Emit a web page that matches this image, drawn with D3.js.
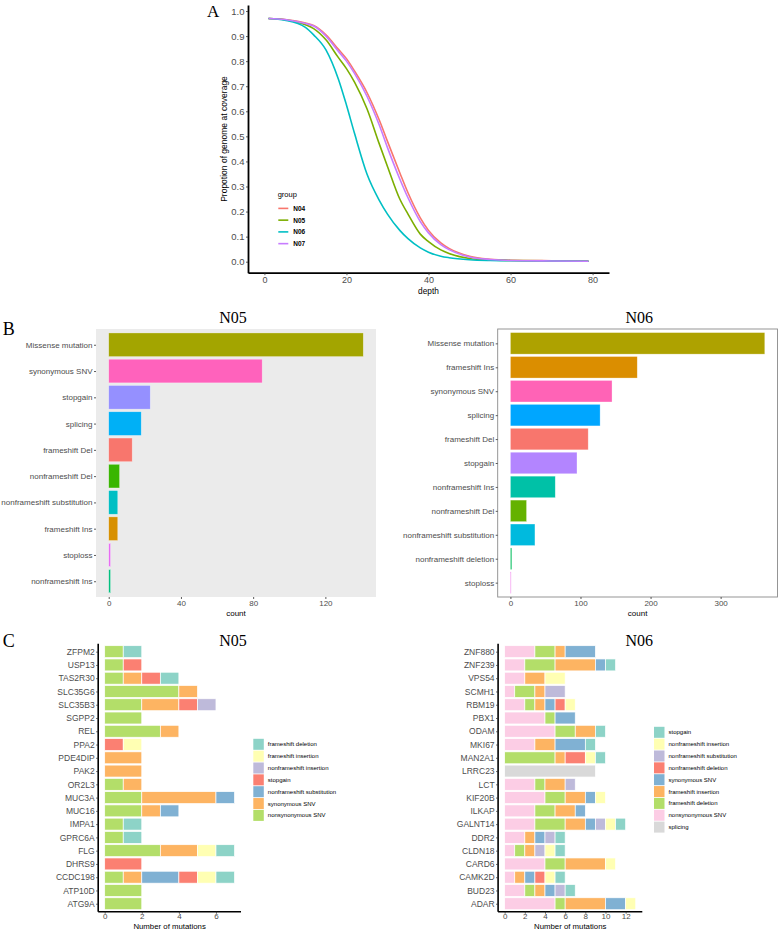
<!DOCTYPE html>
<html>
<head>
<meta charset="utf-8">
<title>Coverage and mutation summary</title>
<script src="https://cdn.jsdelivr.net/npm/d3@7/dist/d3.min.js"></script>
<style>
  body { margin: 0; background: #fff; }
  svg { display: block; font-family: "Liberation Sans", Arial, sans-serif; }
</style>
</head>
<body>
<div id="chart"></div>
<script>
// ---------- panel A : coverage curves ----------
var depthPoints = [1, 5, 10, 12, 15, 18, 20, 22, 25, 28, 30, 33, 35, 38, 40, 43, 45, 50, 55, 60, 70, 79];
var covN04 = [0.970, 0.966, 0.952, 0.942, 0.905, 0.848, 0.810, 0.760, 0.675, 0.565, 0.480, 0.355, 0.275, 0.175, 0.125, 0.075, 0.053, 0.022, 0.010, 0.006, 0.004, 0.003];
var covN05 = [0.970, 0.965, 0.945, 0.930, 0.885, 0.815, 0.770, 0.715, 0.610, 0.470, 0.380, 0.250, 0.190, 0.110, 0.080, 0.047, 0.033, 0.013, 0.007, 0.005, 0.003, 0.002];
var covN06 = [0.970, 0.963, 0.935, 0.905, 0.845, 0.730, 0.625, 0.510, 0.350, 0.245, 0.190, 0.125, 0.092, 0.055, 0.038, 0.022, 0.016, 0.008, 0.005, 0.004, 0.003, 0.002];
var covN07 = [0.970, 0.966, 0.950, 0.940, 0.900, 0.840, 0.800, 0.750, 0.660, 0.545, 0.455, 0.330, 0.255, 0.160, 0.115, 0.068, 0.048, 0.019, 0.009, 0.005, 0.003, 0.002];
var groupNames = ["N04", "N05", "N06", "N07"];
var groupColors = ["#F8766D", "#7CAE00", "#00BFC4", "#C77CFF"];

// ---------- panel B : mutation type counts ----------
var n05Types = ["Missense mutation", "synonymous SNV", "stopgain", "splicing", "frameshift Del",
  "nonframeshift Del", "nonframeshift substitution", "frameshift Ins", "stoploss", "nonframeshift Ins"];
var n05Counts = [141, 85, 23, 18, 13, 6, 5, 5, 1, 1];
var n05TypeColors = ["#A3A500", "#FF62BC", "#9590FF", "#00B0F6", "#F8766D", "#39B600", "#00BFC4", "#D89000", "#E76BF3", "#00BF7D"];

var n06Types = ["Missense mutation", "frameshift Ins", "synonymous SNV", "splicing", "frameshift Del", "stopgain",
  "nonframeshift Ins", "nonframeshift Del", "nonframeshift substitution", "nonframeshift deletion", "stoploss"];
var n06Counts = [363, 181, 145, 128, 111, 95, 64, 23, 35, 2, 1];
var n06TypeColors = ["#AEA200", "#DB8E00", "#FF63B6", "#00A6FF", "#F8766D", "#B385FF", "#00C1A7", "#64B200", "#00BADE", "#00BD5C", "#EF67EB"];

// ---------- panel C : mutations per gene ----------
var n05Genes = ["ZFPM2", "USP13", "TAS2R30", "SLC35G6", "SLC35B3", "SGPP2", "REL", "PPA2", "PDE4DIP", "PAK2",
  "OR2L3", "MUC3A", "MUC16", "IMPA1", "GPRC6A", "FLG", "DHRS9", "CCDC198", "ATP10D", "ATG9A"];
var n05Nonsyn   = [1, 1, 1, 4, 2, 2, 3, 0, 0, 0, 1, 2, 2, 1, 1, 3, 0, 1, 2, 2];
var n05Syn      = [0, 0, 1, 1, 2, 0, 1, 0, 2, 2, 1, 4, 1, 0, 0, 2, 0, 1, 0, 0];
var n05NfsSub   = [0, 0, 0, 0, 0, 0, 0, 0, 0, 0, 0, 1, 1, 0, 0, 0, 0, 2, 0, 0];
var n05Stopgain = [0, 1, 1, 0, 1, 0, 0, 1, 0, 0, 0, 0, 0, 0, 0, 0, 2, 1, 0, 0];
var n05NfsIns   = [0, 0, 0, 0, 1, 0, 0, 0, 0, 0, 0, 0, 0, 0, 0, 0, 0, 0, 0, 0];
var n05FsIns    = [0, 0, 0, 0, 0, 0, 0, 1, 0, 0, 0, 0, 0, 0, 0, 1, 0, 1, 0, 0];
var n05FsDel    = [1, 0, 1, 0, 0, 0, 0, 0, 0, 0, 0, 0, 0, 1, 1, 1, 0, 1, 0, 0];

var n06Genes = ["ZNF880", "ZNF239", "VPS54", "SCMH1", "RBM19", "PBX1", "ODAM", "MKI67", "MAN2A1", "LRRC23",
  "LCT", "KIF20B", "ILKAP", "GALNT14", "DDR2", "CLDN18", "CARD6", "CAMK2D", "BUD23", "ADAR"];
var n06Splicing = [0, 0, 0, 0, 0, 0, 0, 0, 0, 9, 0, 0, 0, 0, 0, 0, 0, 0, 0, 0];
var n06Nonsyn   = [3, 2, 2, 1, 2, 4, 5, 3, 0, 0, 3, 4, 3, 3, 2, 1, 4, 1, 2, 5];
var n06FsDel    = [2, 3, 0, 2, 1, 1, 2, 0, 5, 0, 1, 2, 2, 3, 0, 1, 2, 0, 1, 1];
var n06FsIns    = [1, 4, 2, 1, 1, 0, 2, 2, 1, 0, 2, 2, 2, 2, 1, 1, 4, 1, 1, 4];
var n06Syn      = [3, 1, 0, 0, 1, 2, 0, 3, 0, 0, 0, 1, 1, 1, 1, 0, 0, 1, 1, 2];
var n06NfsDel   = [0, 0, 0, 0, 1, 0, 0, 0, 2, 0, 0, 0, 0, 0, 0, 0, 0, 1, 0, 0];
var n06NfsSub   = [0, 0, 0, 2, 0, 0, 0, 0, 0, 0, 1, 0, 0, 1, 1, 1, 0, 0, 1, 0];
var n06NfsIns   = [0, 0, 2, 0, 1, 0, 0, 0, 1, 0, 0, 1, 0, 1, 0, 1, 1, 1, 0, 1];
var n06Stopgain = [0, 1, 0, 0, 0, 0, 1, 1, 1, 0, 0, 0, 0, 1, 1, 1, 0, 1, 1, 0];

var sans = '"Liberation Sans", Arial, sans-serif';
var serif = '"Liberation Serif", "Times New Roman", serif';
var tickGrey = "#4d4d4d";

var svg = d3.select("#chart").append("svg").attr("width", 778).attr("height", 930);

function addText(txt, x, y, size, opts) {
  opts = opts || {};
  return svg.append("text").attr("x", x).attr("y", y)
    .attr("font-family", opts.family || sans)
    .attr("font-size", size)
    .attr("font-weight", opts.weight || "normal")
    .attr("fill", opts.fill || "#000")
    .attr("text-anchor", opts.anchor || "start")
    .attr("dominant-baseline", opts.baseline || "auto")
    .text(txt);
}

function styleAxis(g, size, lineW, showDomain) {
  g.selectAll("text").attr("font-family", sans).attr("font-size", size).attr("fill", tickGrey);
  g.selectAll(".tick line").attr("stroke", "#333").attr("stroke-width", 0.8);
  if (showDomain) g.select(".domain").attr("stroke", "#000").attr("stroke-width", lineW);
  else g.select(".domain").remove();
}

// ================= Panel A =================
var xA = d3.scaleLinear().domain([-4, 84]).range([248, 609]);
var yA = d3.scaleLinear().domain([-0.0439, 1.024]).range([272.7, 5]);

var gAx = svg.append("g").attr("transform", "translate(0,272.7)")
  .call(d3.axisBottom(xA).tickValues([0, 20, 40, 60, 80]).tickSize(2.5).tickPadding(1.5).tickSizeOuter(0));
styleAxis(gAx, 9, 1.8, true);
var gAy = svg.append("g").attr("transform", "translate(248,0)")
  .call(d3.axisLeft(yA).tickValues(d3.range(0, 11).map(function (d) { return d / 10; }))
    .tickFormat(d3.format(".1f")).tickSize(2).tickPadding(1.5).tickSizeOuter(0));
styleAxis(gAy, 9.5, 1.8, true);

var covSeries = [covN04, covN05, covN06, covN07];
var lineA = d3.line().curve(d3.curveMonotoneX)
  .x(function (d) { return xA(d[0]); }).y(function (d) { return yA(d[1]); });
covSeries.forEach(function (vals, k) {
  svg.append("path")
    .attr("d", lineA(depthPoints.map(function (dp, i) { return [dp, vals[i]]; })))
    .attr("fill", "none").attr("stroke", groupColors[k]).attr("stroke-width", 1.6);
});

addText("A", 207, 17, 17, { family: serif });
addText("depth", xA(40), 293.5, 8.3, { anchor: "middle" });
addText("Propotion of genome at coverage", 0, 0, 8.5, { anchor: "middle" })
  .attr("transform", "translate(227,139) rotate(-90)");

addText("group", 277.7, 197, 7.5);
groupNames.forEach(function (name, i) {
  var cy = 208.4 + i * 11.75;
  svg.append("line").attr("x1", 278.3).attr("x2", 288.3).attr("y1", cy).attr("y2", cy)
    .attr("stroke", groupColors[i]).attr("stroke-width", 1.6);
  addText(name, 293.3, cy, 6.5, { weight: "bold", baseline: "central" });
});

// ================= Panel B =================
function countPanel(o) {
  var max = d3.max(o.vals);
  var x = d3.scaleLinear().domain([-0.05 * max, 1.05 * max]).range([o.x0, o.x1]);
  var y = d3.scalePoint().domain(o.cats).range([o.y0, o.y1]).padding(0.6);
  var bh = y.step() * 0.9;
  if (o.grey) {
    svg.append("rect").attr("x", o.x0).attr("y", o.y0).attr("width", o.x1 - o.x0).attr("height", o.y1 - o.y0)
      .attr("fill", "#ebebeb");
  }
  svg.append("g").selectAll("rect").data(o.cats).join("rect")
    .attr("x", x(0)).attr("y", function (d) { return y(d) - bh / 2; })
    .attr("width", function (d, i) { return x(o.vals[i]) - x(0); })
    .attr("height", bh)
    .attr("fill", function (d, i) { return o.colors[i]; })
    .attr("stroke", "#fff").attr("stroke-opacity", 0.5).attr("stroke-width", 0.6);
  if (!o.grey) {
    svg.append("rect").attr("x", o.x0).attr("y", o.y0).attr("width", o.x1 - o.x0).attr("height", o.y1 - o.y0)
      .attr("fill", "none").attr("stroke", "#8a8a8a").attr("stroke-width", 0.9);
  }
  var gx = svg.append("g").attr("transform", "translate(0," + o.y1 + ")")
    .call(d3.axisBottom(x).tickValues(o.ticks).tickSize(2).tickPadding(1.5));
  styleAxis(gx, 8, 1, false);
  var gy = svg.append("g").attr("transform", "translate(" + o.x0 + ",0)")
    .call(d3.axisLeft(y).tickSize(2).tickPadding(1.5));
  styleAxis(gy, 8, 1, false);
  addText("count", (o.x0 + o.x1) / 2, 615.5, 8, { anchor: "middle" });
  addText(o.title, (o.x0 + o.x1) / 2 + o.titleShift, 323.3, 16, { family: serif, anchor: "middle" });
}

countPanel({ cats: n05Types, vals: n05Counts, colors: n05TypeColors, grey: true,
  x0: 96, x1: 376, y0: 329, y1: 597, ticks: [0, 40, 80, 120], title: "N05", titleShift: -3 });
countPanel({ cats: n06Types, vals: n06Counts, colors: n06TypeColors, grey: false,
  x0: 497.7, x1: 777.5, y0: 329, y1: 597, ticks: [0, 100, 200, 300], title: "N06", titleShift: 1.6 });
addText("B", 2.7, 335, 18, { family: serif });

// ================= Panel C =================
function stackPanel(o) {
  var rows = o.genes.map(function (g, i) {
    var r = { gene: g };
    o.layers.forEach(function (l) { r[l.name] = l.vals[i]; });
    return r;
  });
  var keys = o.layers.map(function (l) { return l.name; });
  var series = d3.stack().keys(keys)(rows);
  var max = d3.max(series[series.length - 1], function (d) { return d[1]; });
  var x = d3.scaleLinear().domain([-0.05 * max, 1.05 * max]).range([o.x0, o.x1]);
  var y = d3.scalePoint().domain(o.genes).range([o.y0, o.y1]).padding(0.6);
  var bh = y.step() * 0.9;

  svg.append("g").selectAll("g").data(series).join("g")
    .attr("fill", function (s, k) { return o.layers[k].color; })
    .selectAll("rect").data(function (s) { return s.filter(function (d) { return d[1] > d[0]; }); }).join("rect")
    .attr("x", function (d) { return x(d[0]); })
    .attr("width", function (d) { return x(d[1]) - x(d[0]); })
    .attr("y", function (d) { return y(d.data.gene) - bh / 2; })
    .attr("height", bh)
    .attr("stroke", "#fff").attr("stroke-width", 0.7);

  var gx = svg.append("g").attr("transform", "translate(0," + o.y1 + ")")
    .call(d3.axisBottom(x).tickValues(o.ticks).tickSize(2).tickPadding(0).tickSizeOuter(0));
  styleAxis(gx, 8, 1.6, true);
  var gy = svg.append("g").attr("transform", "translate(" + o.x0 + ",0)")
    .call(d3.axisLeft(y).tickSize(2).tickPadding(1.5).tickSizeOuter(0));
  styleAxis(gy, 8.5, 1.6, true);
  // extend axis lines to the panel corner
  gx.select(".domain").attr("d", "M" + o.x0 + ",0H" + o.x1);
  gy.select(".domain").attr("d", "M0," + o.y0 + "V" + o.y1);

  addText("Number of mutations", (o.x0 + o.x1) / 2, 928.5, 7.8, { anchor: "middle" });
  addText(o.title, o.titleX, 646, 16, { family: serif, anchor: "middle" });

  // legend (reverse of the stacking order)
  var leg = o.layers.slice().reverse();
  leg.forEach(function (l, i) {
    var cy = o.legY + i * 11.85;
    svg.append("rect").attr("x", o.legX).attr("y", cy - 5.5).attr("width", 10.5).attr("height", 11)
      .attr("fill", l.color);
    addText(l.name, o.legX + 14.5, cy, 6, { baseline: "central" });
  });
}

stackPanel({
  genes: n05Genes,
  layers: [
    { name: "nonsynonymous SNV", color: "#B3DE69", vals: n05Nonsyn },
    { name: "synonymous SNV", color: "#FDB462", vals: n05Syn },
    { name: "nonframeshift substitution", color: "#80B1D3", vals: n05NfsSub },
    { name: "stopgain", color: "#FB8072", vals: n05Stopgain },
    { name: "nonframeshift insertion", color: "#BEBADA", vals: n05NfsIns },
    { name: "frameshift insertion", color: "#FFFFB3", vals: n05FsIns },
    { name: "frameshift deletion", color: "#8DD3C7", vals: n05FsDel }
  ],
  x0: 98.2, x1: 241, y0: 643.7, y1: 911.7, ticks: [0, 2, 4, 6],
  title: "N05", titleX: 233, legX: 253.3, legY: 744.3
});

stackPanel({
  genes: n06Genes,
  layers: [
    { name: "splicing", color: "#D9D9D9", vals: n06Splicing },
    { name: "nonsynonymous SNV", color: "#FCCDE5", vals: n06Nonsyn },
    { name: "frameshift deletion", color: "#B3DE69", vals: n06FsDel },
    { name: "frameshift insertion", color: "#FDB462", vals: n06FsIns },
    { name: "synonymous SNV", color: "#80B1D3", vals: n06Syn },
    { name: "nonframeshift deletion", color: "#FB8072", vals: n06NfsDel },
    { name: "nonframeshift substitution", color: "#BEBADA", vals: n06NfsSub },
    { name: "nonframeshift insertion", color: "#FFFFB3", vals: n06NfsIns },
    { name: "stopgain", color: "#8DD3C7", vals: n06Stopgain }
  ],
  x0: 498.1, x1: 642.3, y0: 643.7, y1: 911.7, ticks: [0, 2, 4, 6, 8, 10, 12],
  title: "N06", titleX: 639.3, legX: 654, legY: 732.3
});
addText("C", 2.7, 646.5, 18, { family: serif });
</script>
</body>
</html>
